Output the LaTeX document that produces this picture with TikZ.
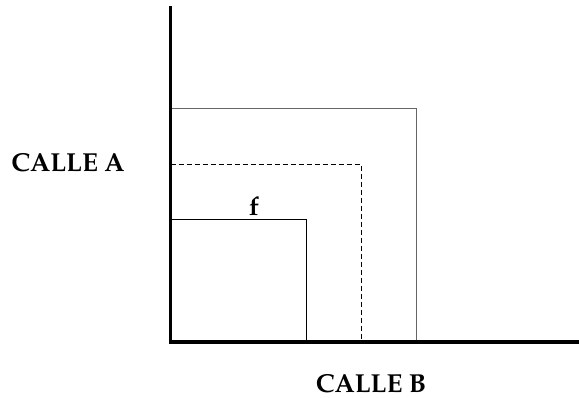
\documentclass[tikz,border=0pt]{standalone}
\usepackage[T1]{fontenc}
\usepackage{mathpazo}
\begin{document}
\begin{tikzpicture}[x=1pt,y=-1pt,
  axisline/.style={line width=3.2pt,line cap=rect},
  lot/.style={line width=1pt},
  lbl/.style={font=\fontsize{26}{30}\selectfont\bfseries,inner sep=0pt}]
\useasboundingbox (0,0) rectangle (579,398);
\coordinate (top) at (170.5,8);
\coordinate (origin) at (170.5,342);
\coordinate (right) at (579,342);
\draw[lot,draw=gray!80!black] (170.5,108.5) -| (416.5,342);
\draw[lot,dashed,dash pattern=on 5pt off 3pt] (170.5,165) -| (361,342);
\draw[lot] (170.5,220) -| (306,342);
\draw[axisline] (top) -- (origin) -- (right);
\node[lbl] (ca) at (68,163) {CALLE A};
\node[lbl,anchor=base] (cb) at (371,392) {CALLE B};
\node[lbl,anchor=base] (f) at (254,216) {f};
\end{tikzpicture}
\end{document}
